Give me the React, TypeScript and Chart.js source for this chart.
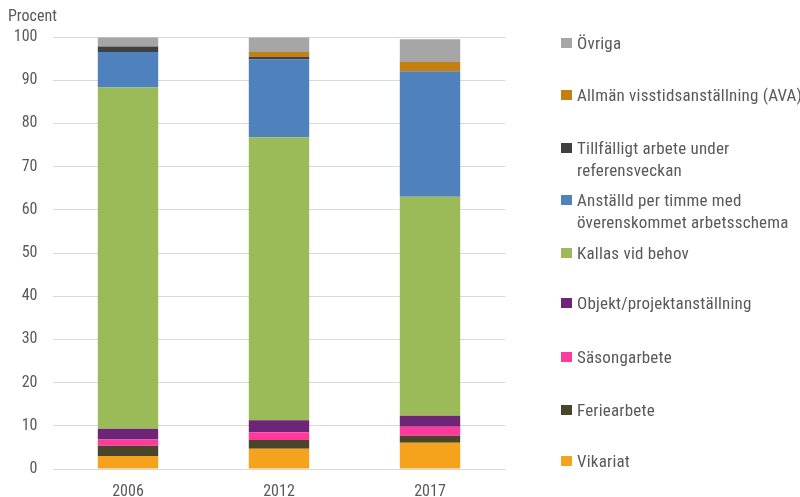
import React, { useEffect, useRef } from "react";
import { Chart, registerables } from "chart.js";

Chart.register(...registerables);

const categories = ["2006", "2012", "2017"];

const seriesNames = [
  "Vikariat",
  "Feriearbete",
  "Säsongarbete",
  "Objekt/projektanställning",
  "Kallas vid behov",
  "Anställd per timme med överenskommet arbetsschema",
  "Tillfälligt arbete under referensveckan",
  "Allmän visstidsanställning (AVA)",
  "Övriga",
];

const legendLines = [
  ["Vikariat"],
  ["Feriearbete"],
  ["Säsongarbete"],
  ["Objekt/projektanställning"],
  ["Kallas vid behov"],
  ["Anställd per timme med", "överenskommet arbetsschema"],
  ["Tillfälligt arbete under", "referensveckan"],
  ["Allmän visstidsanställning (AVA)"],
  ["Övriga"],
];

const vikariat = [3.0, 4.7, 6.1];
const feriearbete = [2.4, 2.0, 1.6];
const sasongarbete = [1.4, 1.8, 2.1];
const objekt = [2.5, 2.8, 2.5];
const kallas = [79.0, 65.5, 50.7];
const anstalld = [8.2, 18.0, 29.1];
const tillfalligt = [1.3, 0.6, 0];
const ava = [0, 1.1, 2.1];
const ovriga = [2.1, 3.4, 5.3];

const seriesValues = [vikariat, feriearbete, sasongarbete, objekt, kallas, anstalld, tillfalligt, ava, ovriga];

const colors = [
  "#F5A31C",
  "#4A452A",
  "#FF3A9B",
  "#6E2577",
  "#9BBB59",
  "#4F81BD",
  "#404040",
  "#C47F0E",
  "#A6A6A6",
];

const yTicks = [0, 10, 20, 30, 40, 50, 60, 70, 80, 90, 100];

const legendTops = [461, 410, 357, 303, 253, 200, 148, 95, 43];

const FONT = "'Roboto Condensed', 'DejaVu Sans Condensed', sans-serif";
const TEXT = "#595959";

export default function App() {
  const ref = useRef<HTMLCanvasElement | null>(null);

  useEffect(() => {
    if (!ref.current) return;
    const titlePlugin = {
      id: "procentTitle",
      afterDraw(chart: any) {
        const ctx = chart.ctx;
        ctx.save();
        ctx.fillStyle = TEXT;
        ctx.font = `16px ${FONT}`;
        ctx.textBaseline = "middle";
        ctx.textAlign = "left";
        ctx.fillText("Procent", 8, 17);
        ctx.restore();
      },
    };
    const chart = new Chart(ref.current, {
      type: "bar",
      data: {
        labels: categories,
        datasets: seriesNames.map((name, i) => ({
          label: name,
          data: seriesValues[i],
          backgroundColor: colors[i],
          borderWidth: 0,
          barPercentage: 0.4,
          categoryPercentage: 1,
        })),
      },
      options: {
        animation: false,
        responsive: true,
        maintainAspectRatio: false,
        layout: { padding: { left: 0, right: 294.5, top: 37, bottom: 0 } },
        plugins: {
          legend: { display: false },
          tooltip: { enabled: false },
          title: { display: false },
        },
        scales: {
          x: {
            stacked: true,
            grid: { display: false },
            border: { display: false },
            ticks: { color: TEXT, font: { family: FONT, size: 16 }, padding: 5 },
            afterFit: (scale: any) => {
              scale.height = 28;
            },
          },
          y: {
            stacked: true,
            min: 0,
            max: 100,
            afterBuildTicks: (scale: any) => {
              scale.ticks = yTicks.map((v) => ({ value: v }));
            },
            grid: { color: "#D9D9D9", lineWidth: 1, drawTicks: false },
            border: { display: false },
            ticks: { color: TEXT, font: { family: FONT, size: 16 }, padding: 15 },
            afterFit: (scale: any) => {
              scale.width = 52.5;
            },
          },
        },
      },
      plugins: [titlePlugin],
    });
    return () => chart.destroy();
  }, []);

  return (
    <div style={{ position: "fixed", left: 0, top: 0, width: 800, height: 497, background: "#fff" }}>
      <canvas ref={ref} style={{ position: "absolute", left: 0, top: 0 }} />
      {legendLines.map((lines, i) => (
        <div
          key={i}
          style={{
            position: "absolute",
            left: 561,
            top: legendTops[i] - 11,
            fontFamily: FONT,
            fontSize: 17,
            letterSpacing: "0.2px",
            lineHeight: "22px",
            color: TEXT,
            whiteSpace: "nowrap",
          }}
        >
          <span
            style={{
              position: "absolute",
              left: 0,
              top: 6,
              width: 11,
              height: 10,
              background: colors[i],
            }}
          />
          <div style={{ marginLeft: 16 }}>
            {lines.map((l, j) => (
              <div key={j}>{l}</div>
            ))}
          </div>
        </div>
      ))}
    </div>
  );
}
